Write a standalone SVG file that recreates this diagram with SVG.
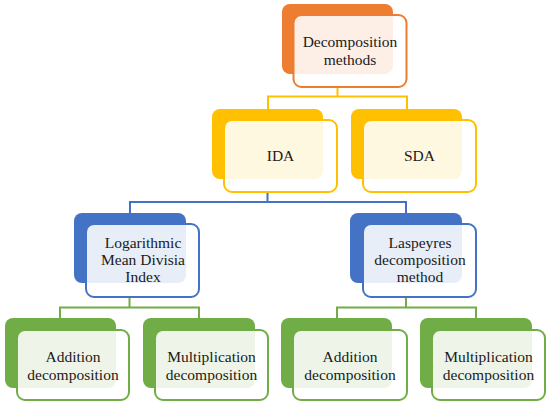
<svg xmlns="http://www.w3.org/2000/svg" width="550" height="405" viewBox="0 0 550 405">
<style>
.front{fill:#ffffff;fill-opacity:0.88;stroke-width:2}
.t{font-family:"Liberation Serif","Times New Roman",Times,"Noto Serif","DejaVu Serif",FreeSerif,serif;font-size:15.5px;fill:#1a1a1a;text-anchor:middle}
.c{fill:none;stroke-width:2}
.o .back{fill:#ED7D31}.o .front{stroke:#ED7D31}
.y .back{fill:#FFC000}.y .front{stroke:#FFC000}
.b .back{fill:#4472C4}.b .front{stroke:#4472C4}
.g .back{fill:#70AD47}.g .front{stroke:#70AD47}
</style>
<rect width="550" height="405" fill="#ffffff"/>
<g id="connectors">
<path class="c" stroke="#FFC000" d="M337.5 87V96.5M268 109V96.5H407V109"/>
<path class="c" stroke="#4472C4" d="M267.5 192V202M130 213V202H406V213"/>
<path class="c" stroke="#70AD47" d="M129.5 297V307.5M60 318V307.5H199V318"/>
<path class="c" stroke="#70AD47" d="M406 297V307.5M337 318V307.5H476V318"/>
</g>
<g id="decomposition-methods" class="o">
<rect class="back" x="282" y="4" width="111" height="70" rx="8"/>
<rect class="front" x="293.5" y="15" width="113" height="72" rx="8"/>
<text class="t" x="350" y="47">Decomposition</text>
<text class="t" x="350" y="65">methods</text>
</g>
<g id="ida" class="y">
<rect class="back" x="212" y="109" width="111" height="70" rx="8"/>
<rect class="front" x="224" y="120" width="113" height="72" rx="8"/>
<text class="t" x="280.5" y="161">IDA</text>
</g>
<g id="sda" class="y">
<rect class="back" x="351" y="109" width="111" height="70" rx="8"/>
<rect class="front" x="363" y="120" width="113" height="72" rx="8"/>
<text class="t" x="419.5" y="161">SDA</text>
</g>
<g id="lmdi" class="b">
<rect class="back" x="74" y="213" width="112" height="70" rx="8"/>
<rect class="front" x="86" y="224" width="113" height="73" rx="8"/>
<text class="t" x="143" y="248">Logarithmic</text>
<text class="t" x="143" y="265">Mean Divisia</text>
<text class="t" x="143" y="282">Index</text>
</g>
<g id="laspeyres" class="b">
<rect class="back" x="350" y="213" width="112" height="70" rx="8"/>
<rect class="front" x="363" y="224" width="113" height="73" rx="8"/>
<text class="t" x="420" y="248">Laspeyres</text>
<text class="t" x="420" y="265">decomposition</text>
<text class="t" x="420" y="282">method</text>
</g>
<g id="addition-left" class="g">
<rect class="back" x="5" y="318" width="111" height="70" rx="8"/>
<rect class="front" x="17" y="330" width="112" height="70" rx="8"/>
<text class="t" x="73" y="362">Addition</text>
<text class="t" x="73" y="380">decomposition</text>
</g>
<g id="multiplication-left" class="g">
<rect class="back" x="143" y="318" width="112" height="70" rx="8"/>
<rect class="front" x="155" y="330" width="113" height="70" rx="8"/>
<text class="t" x="211.5" y="362">Multiplication</text>
<text class="t" x="211.5" y="380">decomposition</text>
</g>
<g id="addition-right" class="g">
<rect class="back" x="281" y="318" width="111" height="70" rx="8"/>
<rect class="front" x="293" y="330" width="114" height="70" rx="8"/>
<text class="t" x="350" y="362">Addition</text>
<text class="t" x="350" y="380">decomposition</text>
</g>
<g id="multiplication-right" class="g">
<rect class="back" x="420" y="318" width="112" height="70" rx="8"/>
<rect class="front" x="432" y="330" width="113" height="70" rx="8"/>
<text class="t" x="488.5" y="362">Multiplication</text>
<text class="t" x="488.5" y="380">decomposition</text>
</g>
</svg>
